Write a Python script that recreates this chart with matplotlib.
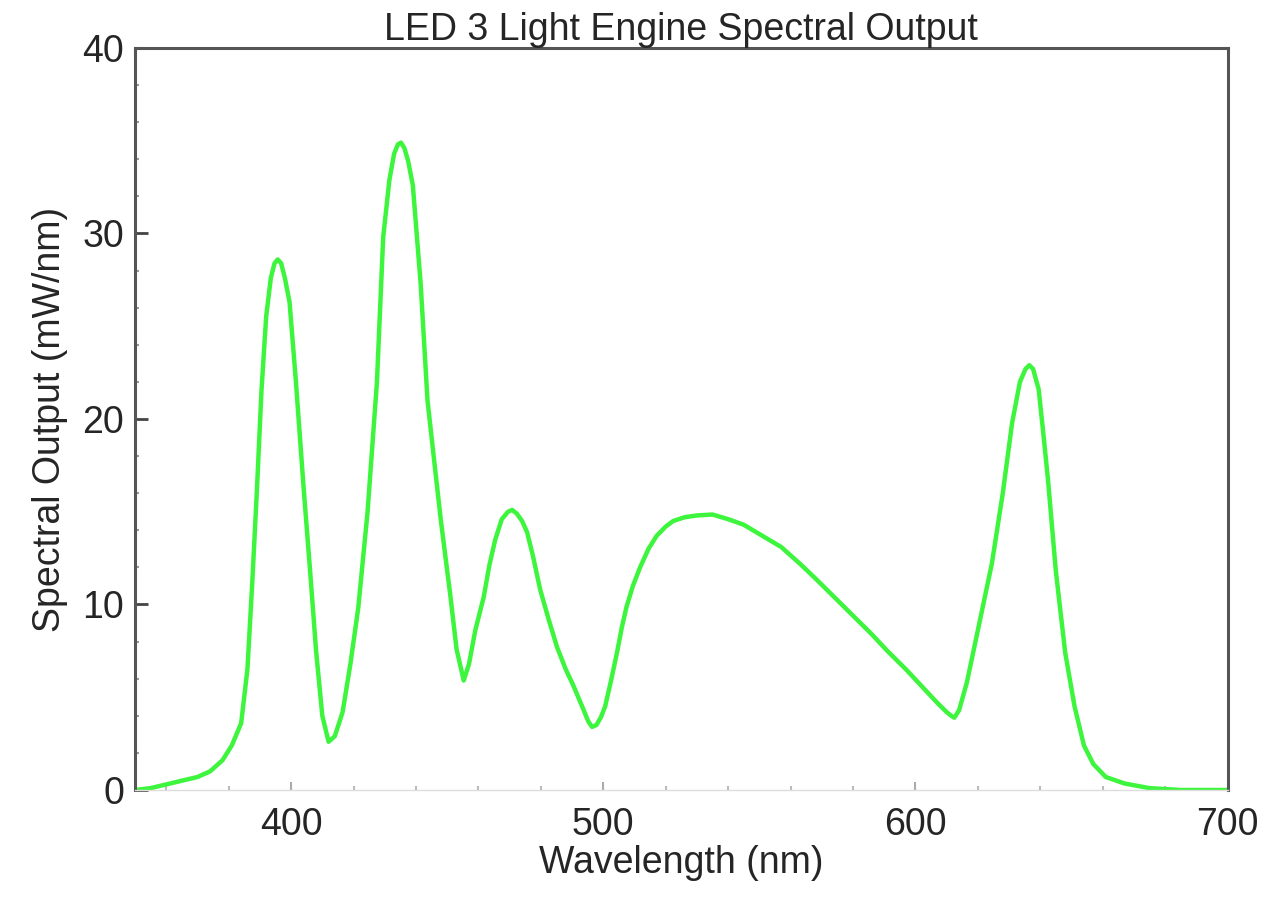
import numpy as np
import matplotlib.pyplot as plt
from matplotlib.ticker import MultipleLocator

# spectrum (nm, mW/nm)
wavelength = [350, 355, 360, 365, 370, 374, 378, 381, 384, 386, 387.5, 389, 390.5,
              392, 393.5, 394.7, 395.7, 396.8, 398, 399.5, 401.5, 404, 406, 408, 410,
              412, 414, 416.5, 419, 421.5, 424.5, 427.5, 429.5, 431.5, 433, 434.2,
              435.2, 436.3, 437.5, 439, 441.5, 443.7, 446, 448, 451, 453, 455.3, 457,
              459, 461.7, 463.5, 465.4, 467.5, 469.5, 470.8, 472.3, 474, 475.6, 477.5,
              479.8, 482.5, 485.2, 488, 490.5, 493.5, 495.2, 496.4, 497.8, 499.2,
              500.6, 502.5, 504.4, 506, 507.5, 509.5, 511.8, 514.5, 517.1, 520, 522.4,
              526, 530, 535, 540, 545, 550, 557, 563, 568, 574, 580, 586, 591, 597, 602,
              607, 610, 611.5, 612.5, 614, 616.5, 620.5, 624.5, 628, 631, 633.5, 635.3,
              636.5, 637.7, 639.5, 641, 642.5, 645, 648, 651, 654, 657, 661, 667, 675,
              685, 700]
output = [0.0, 0.1, 0.3, 0.5, 0.7, 1.0, 1.6, 2.4, 3.6, 6.5, 11.0, 16.0, 21.5,
          25.5, 27.6, 28.4, 28.6, 28.4, 27.6, 26.3, 22.1, 16.3, 12.0, 7.5, 4.0,
          2.6, 2.9, 4.2, 6.8, 9.8, 15.0, 22.0, 29.8, 32.9, 34.3, 34.8,
          34.9, 34.6, 33.9, 32.6, 27.3, 21.0, 17.5, 14.5, 10.5, 7.6, 5.9, 6.8,
          8.6, 10.4, 12.1, 13.5, 14.6, 15.0, 15.1, 14.9, 14.5, 13.9, 12.6,
          10.8, 9.2, 7.7, 6.5, 5.6, 4.4, 3.7, 3.4, 3.5, 3.9,
          4.5, 5.9, 7.4, 8.8, 9.9, 11.0, 12.0, 13.0, 13.7, 14.2, 14.5,
          14.7, 14.8, 14.85, 14.6, 14.3, 13.8, 13.1, 12.2, 11.4, 10.4, 9.4, 8.4, 7.5, 6.5, 5.6,
          4.7, 4.2, 4.0, 3.9, 4.3, 5.8, 9.0, 12.2, 16.0, 19.8, 22.0, 22.7,
          22.9, 22.7, 21.6, 19.2, 16.7, 11.8, 7.4, 4.5, 2.4, 1.4, 0.7, 0.35, 0.1,
          0.0, 0.0]

plt.rcParams['font.family'] = ['Liberation Sans', 'DejaVu Sans']
txt = '#252525'

fig = plt.figure(figsize=(12.8, 8.97), dpi=100)
ax = fig.add_axes([0.1055, 0.1193, 0.8535, 0.8272])

ax.plot(wavelength, output, color='#3cf53c', lw=3.2,
        solid_joinstyle='round', solid_capstyle='round')

ax.set_xlim(350, 700)
ax.set_ylim(0, 40)
ax.xaxis.set_major_locator(MultipleLocator(100))
ax.xaxis.set_minor_locator(MultipleLocator(20))
ax.yaxis.set_major_locator(MultipleLocator(10))
ax.yaxis.set_minor_locator(MultipleLocator(2))

for s in ['left', 'top', 'right']:
    ax.spines[s].set_color('#555555')
    ax.spines[s].set_linewidth(2.2)
ax.spines['bottom'].set_color('#dddddd')
ax.spines['bottom'].set_linewidth(1.0)

ax.tick_params(axis='y', which='major', direction='in', length=9, width=2,
               color='#444444', labelsize=27, labelcolor=txt, pad=8)
ax.tick_params(axis='y', which='minor', direction='in', length=3, width=1.5,
               color='#999999')
ax.tick_params(axis='x', which='major', direction='in', length=6, width=1.5,
               color='#aaaaaa', labelsize=27, labelcolor=txt, pad=12)
ax.tick_params(axis='x', which='minor', direction='in', length=3, width=1.5,
               color='#bbbbbb')

ax.set_xlabel('Wavelength (nm)', fontsize=27, color=txt, labelpad=2)
ax.set_ylabel('Spectral Output (mW/nm)', fontsize=27, color=txt, labelpad=10)
ax.set_title('LED 3 Light Engine Spectral Output', fontsize=27, color=txt, pad=6)

fig.savefig('out.png', dpi=100)
